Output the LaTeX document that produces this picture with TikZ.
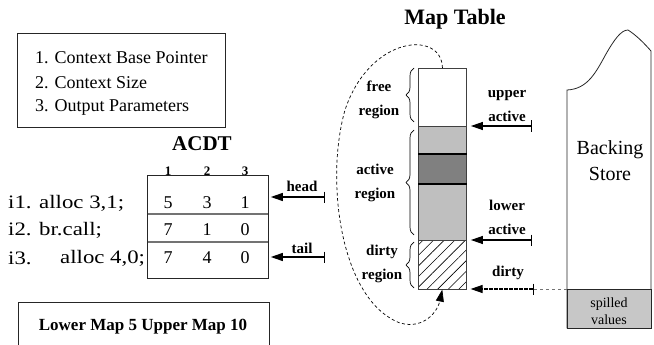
\documentclass[tikz,border=0pt]{standalone}
\usepackage{fontspec}
\setmainfont{Liberation Serif}
\newfontfamily\wideserif{Liberation Serif}[FakeStretch=1.2]
\usetikzlibrary{arrows.meta,decorations.pathreplacing,patterns.meta}

\begin{document}
\begin{tikzpicture}[x=1pt,y=-1pt,
  txt/.style={font=\fontsize{18}{20}\selectfont, inner sep=0pt},
  instr/.style={font=\wideserif\fontsize{19}{20}\selectfont, inner sep=0pt, anchor=west},
  lbl/.style={font=\bfseries\fontsize{15}{24}\selectfont, inner sep=0pt, align=center},
  ttl/.style={font=\bfseries\fontsize{21}{22}\selectfont, inner sep=0pt},
  hdr/.style={font=\bfseries\fontsize{13}{13}\selectfont, inner sep=0pt},
  frame/.style={draw=black!85, line width=0.8pt, inner sep=0pt, anchor=north west},
  cell/.style={draw=black!75, line width=0.9pt, inner sep=0pt, anchor=north west, minimum width=48pt},
  ptr/.style={line width=1.1pt, {Bar[width=11pt,line width=1.4pt]}-{Triangle[length=12pt,width=8pt]}},
  regbrace/.style={decorate, decoration={brace, amplitude=8pt}, line width=0.7pt},
  loop/.style={line width=0.7pt, dash pattern=on 3pt off 2.5pt, -{Triangle[length=12pt,width=8pt]}}
]
\useasboundingbox (0,0) rectangle (654,345);

% ---- field legend ----
\node[frame, minimum width=208pt, minimum height=94pt] (legend) at (17,33) {};
\node[txt, anchor=west] (f1) at (35,58) {1. Context Base Pointer};
\node[txt, anchor=west] (f2) at (35,83) {2. Context Size};
\node[txt, anchor=west] (f3) at (35,107) {3. Output Parameters};

% ---- ACDT ----
\node[ttl] (acdtttl) at (202,144) {ACDT};
\node[frame, minimum width=121pt, minimum height=103pt] (acdt) at (147,175) {};
\draw[black!55, line width=1.6pt] (147.5,214) -- (267.5,214);
\draw[black!55, line width=1.6pt] (147.5,242) -- (267.5,242);
\node[hdr] (c1) at (168,171) {1};
\node[hdr] (c2) at (207,171) {2};
\node[hdr] (c3) at (245,171) {3};
\foreach \a/\b/\c/\y in {5/3/1/203, 7/1/0/230, 7/4/0/258}{
  \node[txt] at (168,\y) {\a};
  \node[txt] at (207,\y) {\b};
  \node[txt] at (245,\y) {\c};
}
\node[instr] (i1) at (8,203) {i1. alloc 3,1;};
\node[instr] (i2) at (8,230) {i2. br.call;};
\node[instr] (i3) at (8,258) {i3.};
\node[instr] (i3b) at (60,258) {alloc 4,0;};

\coordinate (hd) at (325,197);
\coordinate (tl) at (325,257);
\draw[ptr, shorten >=2pt] (hd) -- (hd -| acdt.east);
\draw[ptr, shorten >=2pt] (tl) -- (tl -| acdt.east);
\node[lbl] (headl) at (302,186) {head};
\node[lbl] (taill) at (302,248) {tail};

% ---- map bounds ----
\node[frame, minimum width=251pt, minimum height=50pt] (mapbox) at (18,302) {};
\node[font=\bfseries\fontsize{17}{18}\selectfont, inner sep=0pt] (mapt) at (143,327) {Lower Map 5 Upper Map 10};

% ---- Map Table ----
\node[ttl, font=\bfseries\fontsize{22}{22}\selectfont] (mapttl) at (455,19) {Map Table};
\node[cell, minimum height=58pt] (free) at (418,68) {};
\node[cell, minimum height=28pt, fill=black!25] (act1) at (418,126) {};
\node[cell, minimum height=29pt, fill=black!50] (act2) at (418,154) {};
\node[cell, minimum height=57pt, fill=black!25] (act3) at (418,183) {};
\node[cell, minimum height=49pt, pattern={Lines[angle=45,distance=7.5pt,line width=0.6pt]}] (dirty) at (418,240) {};
\draw[black!75, line width=0.9pt] (dirty.north west) rectangle (dirty.south east);
\draw[black, line width=1.4pt] (act2.north west) -- (act2.north east);
\draw[black, line width=1.4pt] (act2.south west) -- (act2.south east);

\draw[regbrace] (414,122) -- (414,68);
\draw[regbrace] (414,235) -- (414,130);
\draw[regbrace] (414,288) -- (414,242);
\node[lbl] (freel) at (379,100) {free\\region};
\node[lbl] (actl) at (375,183) {active\\region};
\node[lbl] (dirtyl) at (382,264) {dirty\\region};

\draw[loop] (free.north) .. controls (442,30) and (370,35) .. (345,110)
  .. controls (325,180) and (340,300) .. (400,323)
  .. controls (425,330) and (438,310) .. (dirty.south);

\coordinate (ua) at (532,126);
\coordinate (la) at (532,240);
\coordinate (dt) at (534,289);
\draw[ptr, shorten >=4pt] (ua) -- (ua -| free.east);
\draw[ptr, shorten >=4pt] (la) -- (la -| act3.east);
\draw[ptr, shorten >=4pt, dash pattern=on 4pt off 1pt] (dt) -- (dt -| dirty.east);
\node[lbl] (ual) at (507,106) {upper\\active};
\node[lbl] (lal) at (507,217) {lower\\active};
\node[lbl] (dtl) at (508,273) {dirty};

% ---- Backing Store ----
\draw[black!85, line width=0.8pt] (567,328) -- (567,90)
  .. controls (588,89) and (596,72) .. (606,54)
  .. controls (614,40) and (621,30) .. (628,30)
  .. controls (636,35) and (644,43) .. (651,51) -- (651,328) -- cycle;
\node[frame, fill=black!22, minimum width=84pt, minimum height=39pt] (spill) at (567,289) {};
\node[font=\fontsize{20}{26}\selectfont, inner sep=0pt, align=center] (bs) at (610,161) {Backing\\Store};
\node[font=\fontsize{14}{17}\selectfont, inner sep=0pt, align=center] (spt) at (609,311) {spilled\\values};
\draw[black!55, dashed, line width=0.8pt] (dt) -- (spill.west |- dt);
\end{tikzpicture}
\end{document}
